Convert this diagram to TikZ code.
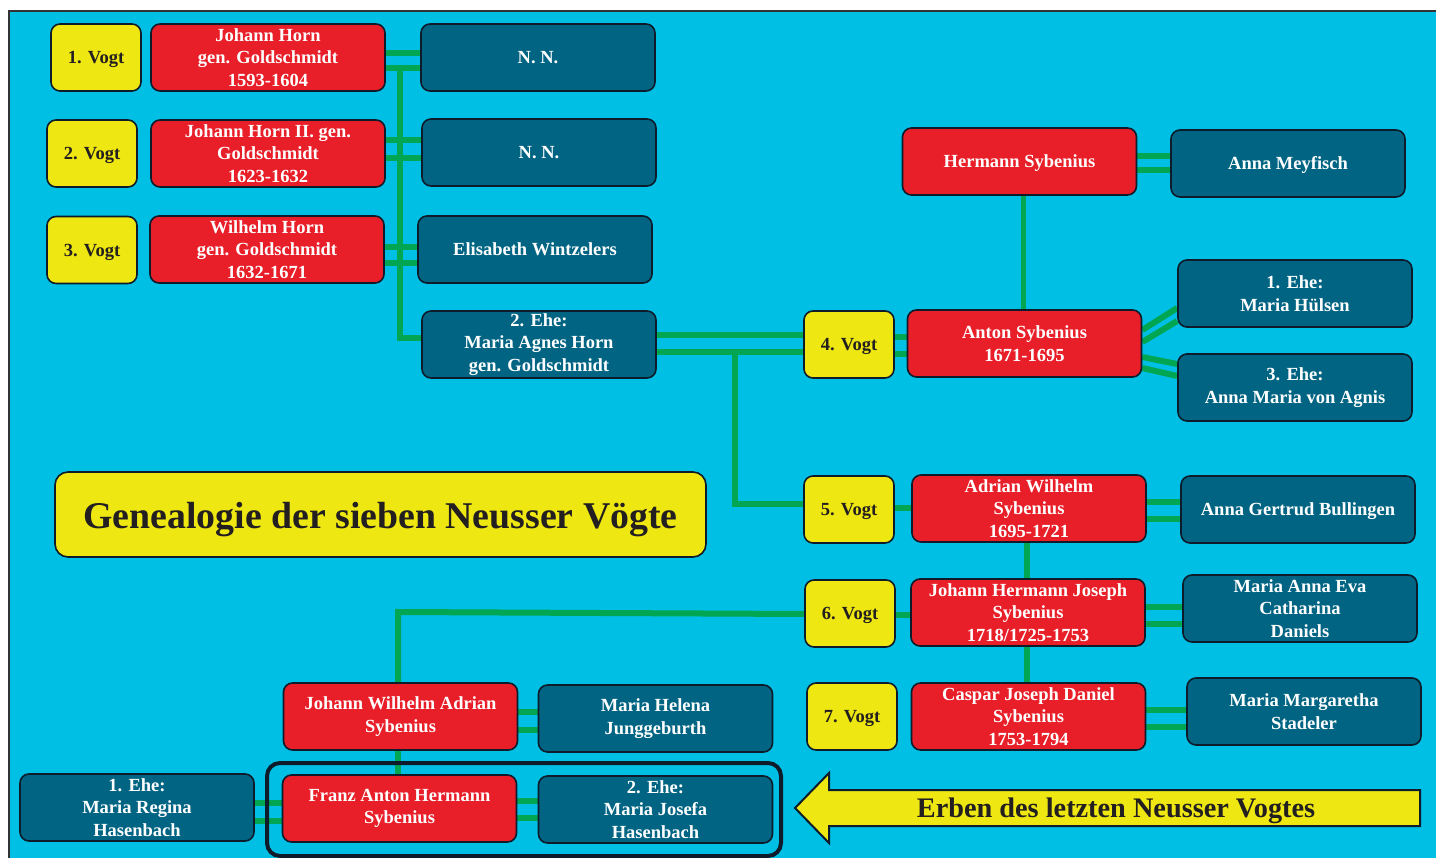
\documentclass[tikz,border=0pt]{standalone}
\usepackage{fontspec}
\setmainfont{Liberation Serif}
\definecolor{bgc}{HTML}{00BFE4}
\definecolor{vred}{HTML}{E81E28}
\definecolor{spc}{HTML}{006482}
\definecolor{vyel}{HTML}{EEE711}
\definecolor{vgreen}{HTML}{00A651}
\definecolor{edgec}{HTML}{0D1B2A}
\definecolor{darktxt}{HTML}{231F20}
\pgfdeclarelayer{backdrop}
\pgfdeclarelayer{background}
\pgfsetlayers{backdrop,background,main}
\tikzset{
  base/.style={draw=edgec, line width=1.6pt, rounded corners=9pt, align=center, inner sep=2pt,
    font=\bfseries\fontsize{18.5}{22.5}\selectfont, minimum height=67pt,
    execute at begin node={\rule{0pt}{17pt}}},
  one/.style={text height=12.5pt, text depth=0pt},
  vogt/.style={base, one, fill=vyel, text=darktxt, minimum width=90pt},
  person/.style={base, fill=vred, text=white, minimum width=234pt},
  spouse/.style={base, fill=spc, text=white, minimum width=234pt},
  link/.style={draw=vgreen, line width=6pt},
  thinlink/.style={draw=vgreen, line width=5pt}
}
\newcommand\dbl[4]{%
  \draw[link] (#1.east |- 0,#3) -- (#2.west |- 0,#3);
  \draw[link] (#1.east |- 0,#4) -- (#2.west |- 0,#4);}
\begin{document}
\begin{tikzpicture}[x=1pt,y=-1pt]
\useasboundingbox (0,0) rectangle (1436,858);
\begin{pgfonlayer}{backdrop}
\fill[white] (0,0) rectangle (1436,858);
\draw[fill=bgc, draw=black!80, line width=2.5pt] (9,11) rectangle (1460,880);
\end{pgfonlayer}

% Vogt boxes
\node[vogt] (v1) at (96,57.5) {1. Vogt};
\node[vogt] (v2) at (92,153.5) {2. Vogt};
\node[vogt] (v3) at (92,250) {3. Vogt};
\node[vogt] (v4) at (849,344.5) {4. Vogt};
\node[vogt] (v5) at (849,509.5) {5. Vogt};
\node[vogt] (v6) at (850,613.5) {6. Vogt};
\node[vogt] (v7) at (852,716.5) {7. Vogt};

% persons
\node[person] (jh) at (268,57.5) {Johann Horn\\gen. Goldschmidt\\1593-1604};
\node[person] (jh2) at (268,153.5) {Johann Horn II. gen.\\Goldschmidt\\1623-1632};
\node[person] (wh) at (267,249.5) {Wilhelm Horn\\gen. Goldschmidt\\1632-1671};
\node[person, one] (hs) at (1019.5,161.5) {Hermann Sybenius};
\node[person] (as) at (1024.5,343.5) {Anton Sybenius\\1671-1695};
\node[person] (aw) at (1029,508.5) {Adrian Wilhelm\\Sybenius\\1695-1721};
\node[person] (jhj) at (1028,612.5) {Johann Hermann Joseph\\Sybenius\\1718/1725-1753};
\node[person] (cj) at (1028.5,716.5) {Caspar Joseph Daniel\\Sybenius\\1753-1794};
\node[person] (jwa) at (400.5,716.5) {Johann Wilhelm Adrian\\Sybenius};
\node[person] (fa) at (399.5,808.5) {Franz Anton Hermann\\Sybenius};

% spouses
\node[spouse, one] (nn1) at (538,57.5) {N. N.};
\node[spouse, one] (nn2) at (539,152.5) {N. N.};
\node[spouse, one] (ew) at (535,249.5) {Elisabeth Wintzelers};
\node[spouse] (mah) at (539,344.5) {2. Ehe:\\Maria Agnes Horn\\gen. Goldschmidt};
\node[spouse, one] (am) at (1288,163.5) {Anna Meyfisch};
\node[spouse] (mh) at (1295,293.5) {1. Ehe:\\Maria Hülsen};
\node[spouse] (ama) at (1295,387.5) {3. Ehe:\\Anna Maria von Agnis};
\node[spouse, one] (agb) at (1298,509.5) {Anna Gertrud Bullingen};
\node[spouse] (mae) at (1300,608.5) {Maria Anna Eva\\Catharina\\Daniels};
\node[spouse] (mms) at (1304,711.5) {Maria Margaretha\\Stadeler};
\node[spouse] (mhj) at (655.5,718.5) {Maria Helena\\Junggeburth};
\node[spouse] (mjh) at (655.5,809.5) {2. Ehe:\\Maria Josefa\\Hasenbach};
\node[spouse] (mrh) at (137,807.5) {1. Ehe:\\Maria Regina\\Hasenbach};

% title
\node[base, fill=vyel, text=darktxt, rounded corners=13pt, minimum width=651pt, minimum height=85pt,
  font=\bfseries\fontsize{37.8}{40}\selectfont, text height=28.5pt, text depth=0pt] (title) at (380.5,514.5) {Genealogie der sieben Neusser Vögte};

% heirs group frame
\node[draw=edgec, line width=4pt, rounded corners=13pt, minimum width=514pt, minimum height=93pt] (grp) at (524,809.5) {};

% arrow
\draw[fill=vyel, draw=edgec, line width=2pt, line join=miter] (795,808) -- (829,773) -- (829,790) -- (1420,790) -- (1420,826) -- (829,826) -- (829,843) -- cycle;
\node[font=\bfseries\fontsize{28.3}{30}\selectfont, text=darktxt, text height=19pt, text depth=0pt] (erben) at (1116,808) {Erben des letzten Neusser Vogtes};

% connectors
\begin{pgfonlayer}{background}
\dbl{jh}{nn1}{53}{68}
\dbl{jh2}{nn2}{140}{158}
\dbl{wh}{ew}{247}{263}
\coordinate (t1) at (400,65);
\draw[link] (t1) |- (mah.west |- 0,338);
\dbl{mah}{v4}{335}{352}
\dbl{v4}{as}{337}{354}
\coordinate (t2) at (735,350);
\draw[link] (t2) |- (v5.west |- 0,504);
\draw[link] (v5.east |- 0,508) -- (aw.west |- 0,508);
\dbl{hs}{am}{156}{170}
\draw[thinlink] (hs.south -| 1023,0) -- (as.north -| 1023,0);
\draw[link] (as.east |- 0,330) -- (mh.west |- 0,308);
\draw[link] (as.east |- 0,342) -- (mh.west |- 0,321);
\draw[link] (as.east |- 0,357) -- (ama.west |- 0,364);
\draw[link] (as.east |- 0,368) -- (ama.west |- 0,376);
\dbl{aw}{agb}{502}{519}
\draw[link] (aw.south -| 1027,0) -- (jhj.north -| 1027,0);
\coordinate (t3) at (398,612);
\draw[link] (v6.west |- 0,614) -- (t3) -- (jwa.north -| 398,0);
\draw[link] (v6.east |- 0,615) -- (jhj.west |- 0,615);
\dbl{jhj}{mae}{607}{624}
\draw[link] (jhj.south -| 1027,0) -- (cj.north -| 1027,0);
\dbl{cj}{mms}{710}{727}
\dbl{jwa}{mhj}{712}{730}
\draw[link] (jwa.south -| 398,0) -- (fa.north -| 398,0);
\dbl{mrh}{fa}{803}{821}
\dbl{fa}{mjh}{801}{818}
\end{pgfonlayer}
\end{tikzpicture}
\end{document}
